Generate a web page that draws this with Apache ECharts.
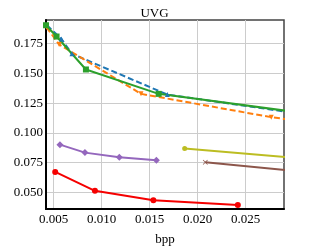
<!DOCTYPE html>
<html><head><meta charset="utf-8">
<script src="https://cdn.jsdelivr.net/npm/echarts@6/dist/echarts.min.js"></script>
<style>html,body{margin:0;padding:0;background:#fff}#c{width:309px;height:247px}</style>
</head><body><div id="c"></div>
<script>
var xTicks = [0.005, 0.010, 0.015, 0.020, 0.025];
var yTicks = [0.050, 0.075, 0.100, 0.125, 0.150, 0.175];
var blue = [[0.0043, 0.1905], [0.0058, 0.179], [0.0069, 0.1665], [0.01685, 0.1322], [0.032, 0.1145]];
var orange = [[0.00425, 0.1888], [0.00557, 0.1744], [0.0141, 0.1328], [0.02767, 0.1132], [0.032, 0.1087]];
var green = [[0.0042, 0.1905], [0.0053, 0.181], [0.00836, 0.1533], [0.01594, 0.1328], [0.032, 0.1156]];
var red = [[0.00516, 0.0672], [0.0093, 0.0513], [0.01539, 0.0433], [0.02419, 0.0394]];
var purple = [[0.00565, 0.0901], [0.00826, 0.0834], [0.01184, 0.0795], [0.0157, 0.0770]];
var brown = [[0.0208, 0.0753], [0.035, 0.0642]];
var olive = [[0.01865, 0.0868], [0.035, 0.0757]];

var font = 'Liberation Serif';
function s(data, color, symbol, dashed, size) {
  return {type: 'line', data: data, symbol: symbol, symbolSize: size || 6, showSymbol: true,
    lineStyle: {color: color, width: 2, type: dashed ? [6, 3] : 'solid'},
    itemStyle: {color: color}, clip: true, animation: false};
}
var chart = echarts.init(document.getElementById('c'), null, {renderer: 'canvas'});
chart.setOption({
  animation: false,
  title: {text: 'UVG', left: 'center', top: 2,
    textStyle: {fontFamily: font, fontSize: 13, fontWeight: 'normal', color: '#000'}},
  grid: {left: 46, right: 25, top: 20, bottom: 38, show: true, borderColor: '#444', borderWidth: 1.5,
    containLabel: false, outerBoundsMode: 'none'},
  xAxis: {type: 'value', min: 0.0042, max: 0.029, name: 'bpp', nameLocation: 'middle', nameGap: 24,
    nameTextStyle: {fontFamily: font, fontSize: 13, color: '#000'},
    axisLine: {show: true, lineStyle: {color: '#000', width: 2}},
    axisTick: {show: false, customValues: xTicks},
    axisLabel: {customValues: xTicks, fontFamily: font, fontSize: 13, color: '#000', margin: 4,
      formatter: function (v) { return v.toFixed(3); }},
    splitLine: {show: true, lineStyle: {color: '#ccc', width: 1}}},
  yAxis: {type: 'value', min: 0.036, max: 0.1949, name: 'DISTS', nameLocation: 'middle', nameGap: 36,
    nameTextStyle: {fontFamily: font, fontSize: 13, color: '#000'},
    axisLine: {show: true, lineStyle: {color: '#000', width: 2}},
    axisTick: {show: false, customValues: yTicks},
    axisLabel: {customValues: yTicks, fontFamily: font, fontSize: 13, color: '#000', margin: 3,
      formatter: function (v) { return v.toFixed(3); }},
    splitLine: {show: true, lineStyle: {color: '#ccc', width: 1}}},
  series: [
    s(blue, '#1f77b4', 'triangle', true, 5),
    s(orange, '#ff7f0e', 'path://M0,0L10,0L5,10Z', true, 5),
    s(green, '#2ca02c', 'rect', false, 6),
    s(red, '#f50000', 'circle', false, 6),
    s(purple, '#9467bd', 'diamond', false, 7),
    s(brown, '#8c564b', 'path://M1,0L5,4L9,0L10,1L6,5L10,9L9,10L5,6L1,10L0,9L4,5L0,1Z', false, 5),
    s(olive, '#bcbd22', 'circle', false, 5)
  ]
});
</script></body></html>
